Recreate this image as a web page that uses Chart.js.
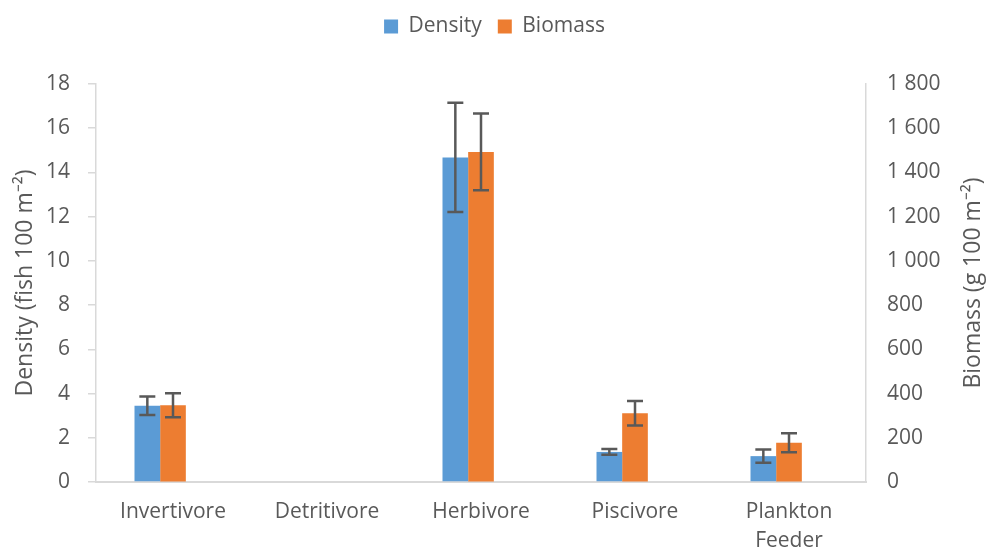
<!DOCTYPE html>
<html>
<head>
<meta charset="utf-8">
<script src="https://cdn.jsdelivr.net/npm/chart.js@4"></script>
<style>
html,body{margin:0;padding:0;background:#fff;}
#wrap{width:989px;height:552px;position:relative;}
</style>
</head>
<body>
<div id="wrap"><canvas id="c"></canvas></div>
<script>
const categories = ["Invertivore", "Detritivore", "Herbivore", "Piscivore", ["Plankton", "Feeder"]];
const density = [3.45, 0, 14.68, 1.36, 1.17];
const densityErr = [0.42, 0, 2.47, 0.13, 0.30];
const biomass = [347, 0, 1493, 311, 177];
const biomassErr = [54, 0, 174, 55, 43];
const densityTicks = [0, 2, 4, 6, 8, 10, 12, 14, 16, 18];
const biomassTicks = [0, 200, 400, 600, 800, 1000, 1200, 1400, 1600, 1800];

const FONT = "'Open Sans', 'Liberation Sans', sans-serif";
const TXT = '#595959';
const AXIS = '#d9d9d9';

function fmtSpace(v){ return String(v).replace(/\B(?=(\d{3})+(?!\d))/g, ' '); }

const errorBars = {
  id: 'errorBars',
  afterDatasetsDraw(chart){
    const ctx = chart.ctx;
    const sets = [{idx:0, vals:density, errs:densityErr, axis:'y'},
                  {idx:1, vals:biomass, errs:biomassErr, axis:'y2'}];
    ctx.save();
    ctx.strokeStyle = '#595959';
    ctx.lineWidth = 2.5;
    sets.forEach(s => {
      const meta = chart.getDatasetMeta(s.idx);
      const sc = chart.scales[s.axis];
      meta.data.forEach((bar, i) => {
        if (!s.errs[i]) return;
        const x = bar.x;
        const yt = sc.getPixelForValue(s.vals[i] + s.errs[i]);
        const yb = sc.getPixelForValue(s.vals[i] - s.errs[i]);
        ctx.beginPath();
        ctx.moveTo(x, yt); ctx.lineTo(x, yb);
        ctx.moveTo(x - 8, yt); ctx.lineTo(x + 8, yt);
        ctx.moveTo(x - 8, yb); ctx.lineTo(x + 8, yb);
        ctx.stroke();
      });
    });
    ctx.restore();
  }
};

const axisTitles = {
  id: 'axisTitles',
  afterDraw(chart){
    const ctx = chart.ctx;
    const ca = chart.chartArea;
    const cy = (ca.top + ca.bottom) / 2;
    ctx.save();
    ctx.fillStyle = TXT;
    ctx.font = "23px " + FONT;
    ctx.textAlign = 'center';
    ctx.textBaseline = 'middle';
    [[25, 'Density (fish 100 m\u207B\u00B2)'], [973, 'Biomass (g 100 m\u207B\u00B2)']].forEach(([x, t]) => {
      ctx.save();
      ctx.translate(x, cy);
      ctx.rotate(-Math.PI / 2);
      ctx.fillText(t, 0, 0);
      ctx.restore();
    });
    ctx.restore();
  }
};

const legendHeight = {
  id: 'legendHeight',
  beforeInit(chart){
    const lg = chart.legend;
    if (lg) {
      const fit = lg.fit;
      lg.fit = function(){ fit.call(this); this.height = 84; };
    }
  }
};

new Chart(document.getElementById('c'), {
  type: 'bar',
  data: {
    labels: categories,
    datasets: [
      {label: 'Density', data: density, backgroundColor: '#5B9BD5', yAxisID: 'y'},
      {label: 'Biomass', data: biomass, backgroundColor: '#ED7D31', yAxisID: 'y2'},
      {label: '', data: categories.map(() => null), backgroundColor: 'rgba(0,0,0,0)', yAxisID: 'y'}
    ]
  },
  options: {
    responsive: true,
    maintainAspectRatio: false,
    animation: false,
    devicePixelRatio: 1,
    layout: {padding: {left: 0, right: 0, top: 0, bottom: 0}},
    datasets: {bar: {categoryPercentage: 0.5, barPercentage: 1.0}},
    plugins: {
      legend: {
        position: 'top',
        labels: {
          font: {family: FONT, size: 21},
          color: TXT,
          boxWidth: 14,
          boxHeight: 14,
          padding: 16,
          filter: item => item.text !== ''
        }
      },
      tooltip: {enabled: false}
    },
    scales: {
      x: {
        grid: {display: false, drawTicks: false},
        border: {display: true, color: AXIS, width: 2},
        ticks: {color: TXT, font: {family: FONT, size: 21, lineHeight: 1.35}, padding: 16, maxRotation: 0, autoSkip: false},
        afterFit(scale){ scale.height = 70; }
      },
      y: {
        position: 'left',
        min: 0, max: 18,
        afterBuildTicks(scale){ scale.ticks = densityTicks.map(v => ({value: v})); },
        grid: {drawOnChartArea: false, drawTicks: true, tickLength: 8, color: AXIS, lineWidth: 1.5},
        border: {display: true, color: AXIS, width: 1.5},
        ticks: {color: TXT, font: {family: FONT, size: 21}, padding: 18},
        afterFit(scale){ scale.width = 96; }
      },
      y2: {
        position: 'right',
        min: 0, max: 1800,
        afterBuildTicks(scale){ scale.ticks = biomassTicks.map(v => ({value: v})); },
        grid: {drawOnChartArea: false, drawTicks: false},
        border: {display: true, color: AXIS, width: 1.5},
        ticks: {color: TXT, font: {family: FONT, size: 21}, padding: 21, callback: v => fmtSpace(v)},
        afterFit(scale){ scale.width = 123; }
      }
    }
  },
  plugins: [legendHeight, errorBars, axisTitles]
});
</script>
</body>
</html>
